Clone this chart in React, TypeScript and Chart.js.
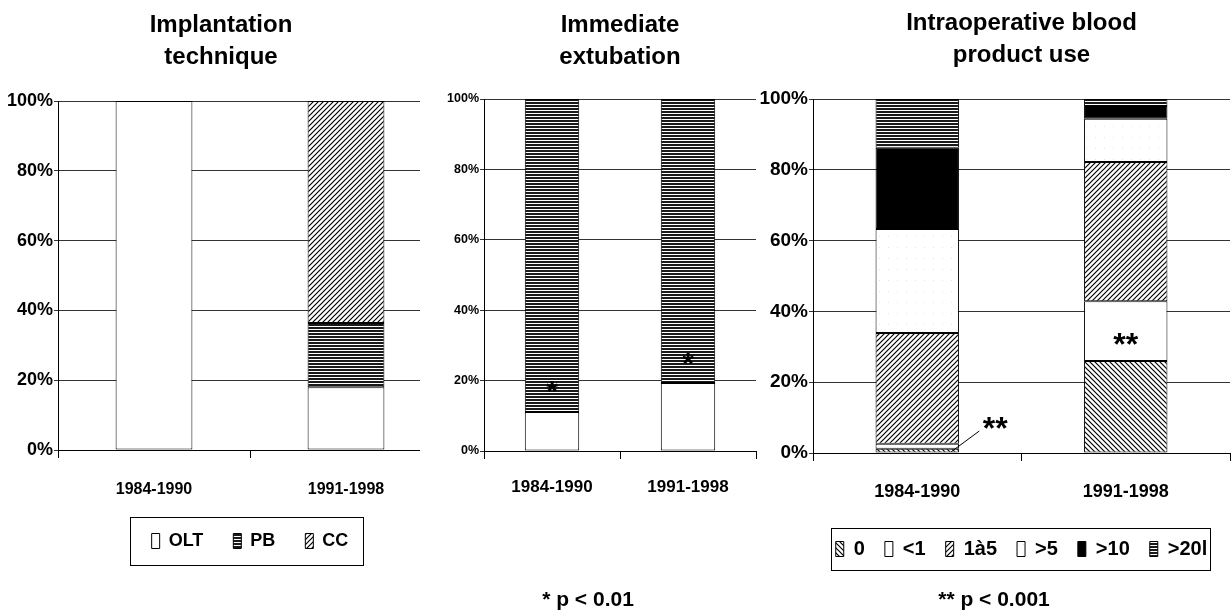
import React, { useEffect, useRef } from 'react';
import { Chart, registerables } from 'chart.js';

Chart.register(...registerables);

const FONT = 'Arial, "Liberation Sans", Helvetica, sans-serif';

// ---------- data ----------
const periods = ['1984-1990', '1991-1998'];
const yTickValues = [0, 20, 40, 60, 80, 100];

// Panel 1: Implantation technique (% of patients)
const techniqueNames = ['OLT', 'PB', 'CC'];
const techniqueOLT = [100, 18.0];
const techniquePB = [0, 18.4];
const techniqueCC = [0, 63.6];

// Panel 2: Immediate extubation
const extubationNames = ['Immediate', 'Delayed'];
const extubationImmediate = [11.1, 19.3];
const extubationDelayed = [88.9, 80.7];
const extubationStarAt = [18.5, 26.5];

// Panel 3: Intraoperative blood product use
const bloodNames = ['0', '<1', '1à5', '>5', '>10', '>20l'];
const blood0 = [1.2, 26.0];
const bloodLt1 = [1.4, 16.9];
const blood1to5 = [31.3, 39.3];
const bloodGt5 = [29.4, 12.2];
const bloodGt10 = [22.9, 3.6];
const bloodGt20 = [13.8, 2.0];
const bloodStarAt = [8.8, 32.5];

const titles = {
  technique: ['Implantation', 'technique'],
  extubation: ['Immediate', 'extubation'],
  blood: ['Intraoperative blood', 'product use'],
};
const footnotes = { extubation: '* p < 0.01', blood: '** p < 0.001' };

// ---------- fills ----------
type Kind = 'white' | 'black' | 'hstripe' | 'diagUp' | 'diagDown' | 'dots';

function makeFill(ctx: CanvasRenderingContext2D, kind: Kind): any {
  if (kind === 'white') return '#ffffff';
  if (kind === 'black') return '#000000';
  const c = document.createElement('canvas');
  const w = kind === 'hstripe' ? 4 : kind === 'dots' ? 9 : 5;
  const h = kind === 'hstripe' ? 3 : kind === 'dots' ? 11 : 5;
  c.width = w;
  c.height = h;
  const g = c.getContext('2d') as CanvasRenderingContext2D;
  g.fillStyle = '#fff';
  g.fillRect(0, 0, w, h);
  g.strokeStyle = '#000';
  g.lineWidth = 1.2;
  if (kind === 'hstripe') {
    g.fillStyle = '#1a1a1a';
    g.fillRect(0, 0, w, 2);
  } else if (kind === 'diagUp') {
    g.beginPath();
    g.moveTo(-1, 6); g.lineTo(6, -1);
    g.moveTo(-1, 1); g.lineTo(1, -1);
    g.moveTo(4, 6); g.lineTo(6, 4);
    g.stroke();
  } else if (kind === 'diagDown') {
    g.beginPath();
    g.moveTo(-1, -1); g.lineTo(6, 6);
    g.moveTo(4, -1); g.lineTo(6, 1);
    g.moveTo(-1, 4); g.lineTo(1, 6);
    g.stroke();
  } else if (kind === 'dots') {
    g.fillStyle = '#e2e2e2';
    g.fillRect(4, 5, 1, 1);
  }
  return ctx.createPattern(c, 'repeat');
}

function bar(label: string, data: number[], fill: any) {
  return {
    label,
    data,
    backgroundColor: fill,
    borderColor: '#000',
    borderWidth: 1,
    borderSkipped: false,
    barPercentage: 0.4,
    categoryPercentage: 1,
  };
}

interface PanelSpec {
  yWidth: number;
  yFont: number;
  xFont: number;
  xPad: number;
  xHeight: number;
  padRight: number;
  padBottom: number;
  title: string[];
  titlePad: { top: number; bottom: number };
  titleFull: boolean;
  legend?: { font: number; padding: number; boxH: number; full: boolean; padL: number; padR: number; padY: number };
  footnote?: { text: string; padTop: number };
}

function makeOptions(s: PanelSpec): any {
  return {
    responsive: false,
    animation: false,
    layout: { padding: { left: 0, right: s.padRight, top: 0, bottom: s.padBottom } },
    scales: {
      x: {
        stacked: true,
        offset: true,
        grid: { display: true, drawOnChartArea: false, drawTicks: true, tickLength: 8, color: '#000', offset: true },
        border: { display: true, color: '#000', width: 1 },
        ticks: { color: '#000', font: { family: FONT, size: s.xFont, weight: 'bold' }, padding: s.xPad, maxRotation: 0, autoSkip: false },
        afterFit: (sc: any) => { sc.height = s.xHeight; },
      },
      y: {
        stacked: true,
        min: 0,
        max: 100,
        afterBuildTicks: (sc: any) => { sc.ticks = yTickValues.map((v) => ({ value: v })); },
        ticks: { color: '#000', font: { family: FONT, size: s.yFont, weight: 'bold' }, padding: 1, callback: (v: any) => v + '%' },
        grid: { color: '#333', lineWidth: 1, drawTicks: true, tickLength: 4 },
        border: { display: true, color: '#000', width: 1 },
        afterFit: (sc: any) => { sc.width = s.yWidth; },
      },
    },
    plugins: {
      tooltip: { enabled: false },
      title: {
        display: true,
        text: s.title,
        color: '#000',
        fullSize: s.titleFull,
        font: { family: FONT, size: 24, weight: 'bold', lineHeight: 32 / 24 },
        padding: s.titlePad,
      },
      subtitle: s.footnote
        ? {
            display: true,
            text: s.footnote.text,
            position: 'bottom',
            fullSize: true,
            color: '#000',
            font: { family: FONT, size: 21, weight: 'bold', lineHeight: 24 / 21 },
            padding: { top: s.footnote.padTop, bottom: 0 },
          }
        : { display: false },
      legend: s.legend
        ? {
            display: true,
            position: 'bottom',
            fullSize: s.legend.full,
            labels: {
              color: '#000',
              boxWidth: 8,
              boxHeight: s.legend.boxH,
              padding: s.legend.padding,
              font: { family: FONT, size: s.legend.font, weight: 'bold' },
            },
          }
        : { display: false },
    },
  };
}

function legendBoxPlugin(s: PanelSpec) {
  return {
    id: 'legendBorder',
    afterDraw(chart: any) {
      const lg = chart.legend;
      if (!s.legend || !lg || !lg.legendHitBoxes || !lg.legendHitBoxes.length) return;
      const hb = lg.legendHitBoxes;
      const l = Math.min(...hb.map((b: any) => b.left)) - s.legend.padL;
      const r = Math.max(...hb.map((b: any) => b.left + b.width)) + s.legend.padR;
      const t = Math.min(...hb.map((b: any) => b.top)) - s.legend.padY;
      const b = Math.max(...hb.map((b: any) => b.top + b.height)) + s.legend.padY;
      const ctx = chart.ctx;
      ctx.save();
      ctx.strokeStyle = '#000';
      ctx.lineWidth = 1;
      ctx.strokeRect(Math.round(l) + 0.5, Math.round(t) + 0.5, Math.round(r - l), Math.round(b - t));
      ctx.restore();
    },
  };
}

function Panel(props: { left: number; width: number; build: (ctx: CanvasRenderingContext2D) => any }) {
  const ref = useRef<HTMLCanvasElement | null>(null);
  useEffect(() => {
    const canvas = ref.current;
    if (!canvas) return;
    const ctx = canvas.getContext('2d') as CanvasRenderingContext2D;
    const chart = new Chart(ctx, props.build(ctx));
    return () => chart.destroy();
  }, []);
  return (
    <canvas
      ref={ref}
      width={props.width}
      height={612}
      style={{ position: 'absolute', left: props.left, top: 0, width: props.width, height: 612, background: '#fff', display: 'block' }}
    />
  );
}

// ---------- panel builders ----------
const spec1: PanelSpec = {
  yWidth: 58, yFont: 18, xFont: 16, xPad: 22, xHeight: 52, padRight: 2, padBottom: 52,
  title: titles.technique, titlePad: { top: 9, bottom: 28 }, titleFull: true,
  legend: { font: 18, padding: 30, boxH: 15, full: false, padL: 22, padR: 14, padY: 15 },
};

function buildTechnique(ctx: CanvasRenderingContext2D) {
  return {
    type: 'bar',
    data: {
      labels: periods,
      datasets: [
        bar(techniqueNames[0], techniqueOLT, makeFill(ctx, 'white')),
        bar(techniqueNames[1], techniquePB, makeFill(ctx, 'hstripe')),
        bar(techniqueNames[2], techniqueCC, makeFill(ctx, 'diagUp')),
      ],
    },
    options: makeOptions(spec1),
    plugins: [legendBoxPlugin(spec1)],
  };
}

const spec2: PanelSpec = {
  yWidth: 64, yFont: 12.5, xFont: 17, xPad: 18, xHeight: 118, padRight: 4, padBottom: 0,
  title: titles.extubation, titlePad: { top: 9, bottom: 26 }, titleFull: false,
  footnote: { text: footnotes.extubation, padTop: 19 },
};

function buildExtubation(ctx: CanvasRenderingContext2D) {
  return {
    type: 'bar',
    data: {
      labels: periods,
      datasets: [
        bar(extubationNames[0], extubationImmediate, makeFill(ctx, 'white')),
        bar(extubationNames[1], extubationDelayed, makeFill(ctx, 'hstripe')),
      ],
    },
    options: makeOptions(spec2),
    plugins: [
      {
        id: 'stars',
        afterDatasetsDraw(chart: any) {
          const { ctx: c, scales } = chart;
          c.save();
          c.fillStyle = '#000';
          c.font = `bold 30px ${FONT}`;
          c.textAlign = 'center';
          c.textBaseline = 'middle';
          extubationStarAt.forEach((v, i) => {
            c.fillText('*', scales.x.getPixelForValue(i), scales.y.getPixelForValue(v) + 7);
          });
          c.restore();
        },
      },
    ],
  };
}

const spec3: PanelSpec = {
  yWidth: 55, yFont: 19, xFont: 18, xPad: 20, xHeight: 66, padRight: 2, padBottom: 0,
  title: titles.blood, titlePad: { top: 7, bottom: 28 }, titleFull: false,
  legend: { font: 20, padding: 20, boxH: 15, full: false, padL: 5, padR: 2, padY: 11 },
  footnote: { text: footnotes.blood, padTop: 19 },
};

function buildBlood(ctx: CanvasRenderingContext2D) {
  return {
    type: 'bar',
    data: {
      labels: periods,
      datasets: [
        bar(bloodNames[0], blood0, makeFill(ctx, 'diagDown')),
        bar(bloodNames[1], bloodLt1, makeFill(ctx, 'white')),
        bar(bloodNames[2], blood1to5, makeFill(ctx, 'diagUp')),
        bar(bloodNames[3], bloodGt5, makeFill(ctx, 'dots')),
        bar(bloodNames[4], bloodGt10, makeFill(ctx, 'black')),
        bar(bloodNames[5], bloodGt20, makeFill(ctx, 'hstripe')),
      ],
    },
    options: makeOptions(spec3),
    plugins: [
      legendBoxPlugin(spec3),
      {
        id: 'bloodStars',
        afterDatasetsDraw(chart: any) {
          const { ctx: c, scales } = chart;
          const x0 = scales.x.getPixelForValue(0);
          const x1 = scales.x.getPixelForValue(1);
          c.save();
          c.fillStyle = '#000';
          c.strokeStyle = '#000';
          c.lineWidth = 1;
          c.font = `bold 32px ${FONT}`;
          c.textAlign = 'center';
          c.textBaseline = 'middle';
          // first period: label with a leader line to the thin bottom segments
          c.fillText('**', x0 + 78, scales.y.getPixelForValue(bloodStarAt[0]) + 8);
          c.beginPath();
          c.moveTo(x0 + 34, scales.y.getPixelForValue(blood0[0] * 0.3));
          c.lineTo(x0 + 62, scales.y.getPixelForValue(6.2));
          c.stroke();
          // second period
          c.fillText('**', x1, scales.y.getPixelForValue(bloodStarAt[1]) + 8);
          c.restore();
        },
      },
    ],
  };
}

export default function App() {
  return (
    <div style={{ position: 'fixed', left: 0, top: 0, width: 1232, height: 612, overflow: 'hidden', background: '#fff' }}>
      <Panel left={0} width={444} build={buildTechnique} />
      <Panel left={420} width={340} build={buildExtubation} />
      <Panel left={758} width={474} build={buildBlood} />
    </div>
  );
}
